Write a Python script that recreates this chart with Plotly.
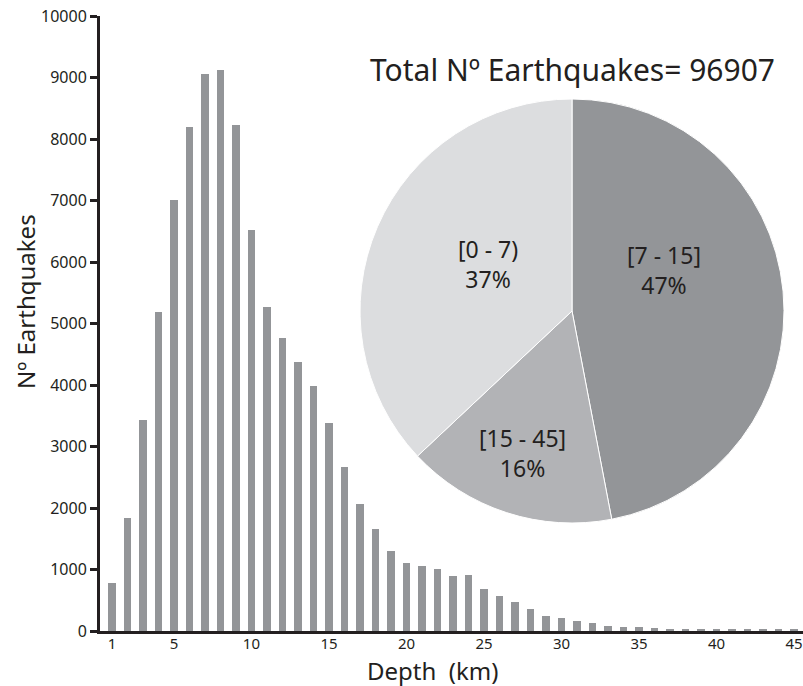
import plotly.graph_objects as go

# Histogram of earthquake depths (1 km bins)
depth_km = list(range(1, 46))
quake_counts = [776, 1832, 3431, 5192, 7003, 8195, 9057, 9122, 8228, 6520,
                5273, 4769, 4379, 3984, 3377, 2672, 2060, 1659, 1301, 1100,
                1057, 1003, 899, 911, 678, 569, 477, 352, 249, 206,
                163, 125, 81, 70, 60, 45, 40, 40, 35, 35,
                35, 30, 30, 30, 30]
x_tick_vals = [1, 5, 10, 15, 20, 25, 30, 35, 40, 45]
y_tick_vals = list(range(0, 10001, 1000))

# Share of events per depth range (pie inset)
range_labels = ["[7 - 15]", "[15 - 45]", "[0 - 7)"]
range_shares = [47, 16, 37]
total_quakes = 96907

W, H = 803, 686
M_L, M_R, M_T, M_B = 100, 0, 16, 55
PW, PH = W - M_L - M_R, H - M_T - M_B

FONT = "Noto Sans"
INK = "#231f20"
BAR_GREY = "#939598"
SLICE_COLOURS = ["#939598", "#b2b3b6", "#dcdddf"]


def px(x, y):
    """Pixel position -> paper coordinates."""
    return (x - M_L) / PW, (H - M_B - y) / PH


fig = go.Figure()

fig.add_trace(go.Bar(
    x=depth_km, y=quake_counts, width=0.5,
    marker=dict(color=BAR_GREY, line=dict(width=0)),
    showlegend=False,
))

# Pie inset
cx, cy, r = 572, 311, 212
x0, y0 = px(cx - r, cy + r)
x1, y1 = px(cx + r, cy - r)
fig.add_trace(go.Pie(
    labels=range_labels, values=range_shares, sort=False,
    direction="clockwise", rotation=0,
    marker=dict(colors=SLICE_COLOURS, line=dict(color="white", width=1)),
    textinfo="none", hoverinfo="label+percent",
    domain=dict(x=[x0, x1], y=[y0, y1]),
    showlegend=False,
))

label_pos = {"[7 - 15]": (664, 270), "[15 - 45]": (522, 453), "[0 - 7)": (488, 264)}
annotations = []
for lab, share in zip(range_labels, range_shares):
    ax, ay = px(*label_pos[lab])
    annotations.append(dict(
        x=ax, y=ay, xref="paper", yref="paper",
        text=f"{lab}<br>{share}%", showarrow=False,
        font=dict(family=FONT, size=23, color=INK),
        xanchor="center", yanchor="middle", align="center",
    ))

tx, ty = px(572, 70)
annotations.append(dict(
    x=tx, y=ty, xref="paper", yref="paper",
    text=f"Total Nº Earthquakes= {total_quakes}", showarrow=False,
    font=dict(family=FONT, size=30, color=INK),
    xanchor="center", yanchor="middle",
))

# Axis titles
xt, yt = px(432, 670)
annotations.append(dict(
    x=xt, y=yt, xref="paper", yref="paper", text="Depth  (km)", showarrow=False,
    font=dict(family=FONT, size=24, color=INK), xanchor="center", yanchor="middle",
))
xt, yt = px(25, 302)
annotations.append(dict(
    x=xt, y=yt, xref="paper", yref="paper", text="Nº Earthquakes", showarrow=False,
    textangle=-90, font=dict(family=FONT, size=24, color=INK),
    xanchor="center", yanchor="middle",
))

fig.update_layout(
    width=W, height=H,
    margin=dict(l=M_L, r=M_R, t=M_T, b=M_B, pad=0),
    paper_bgcolor="white", plot_bgcolor="white",
    bargap=0,
    font=dict(family=FONT, color=INK),
    annotations=annotations,
    xaxis=dict(
        range=[0.23, 45.58], tickvals=x_tick_vals, ticks="",
        showline=True, linewidth=3, linecolor=INK, showgrid=False, zeroline=False,
        tickfont=dict(family=FONT, size=15, color=INK),
        ticklabelstandoff=-3,
    ),
    yaxis=dict(
        range=[0, 10000], tickvals=y_tick_vals,
        ticktext=[str(v) for v in y_tick_vals],
        ticks="outside", ticklen=7, tickwidth=2.5,
        tickcolor=INK, showline=True, linewidth=3, linecolor=INK,
        showgrid=False, zeroline=False,
        tickfont=dict(family=FONT, size=16, color=INK),
    ),
)

fig.write_html("out.html")
